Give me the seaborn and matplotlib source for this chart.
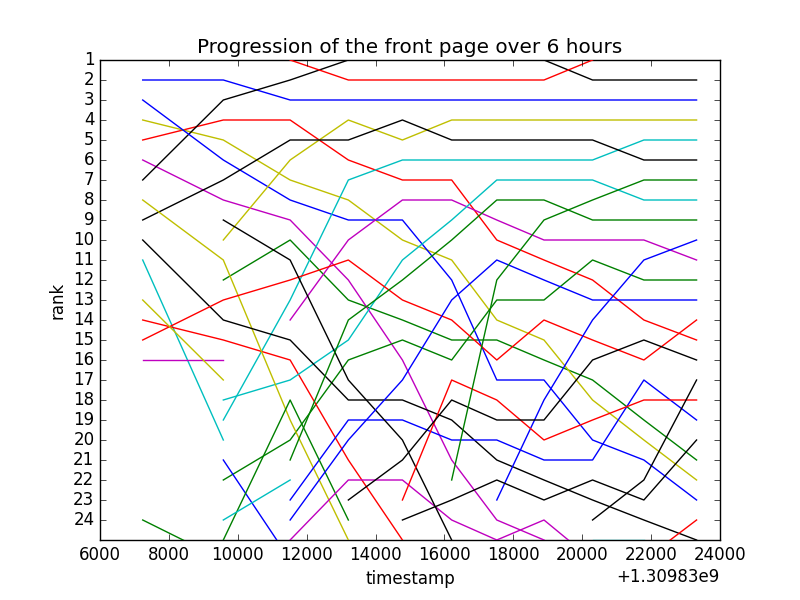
import numpy as np
import pandas as pd
import matplotlib
matplotlib.use("Agg")
import matplotlib.pyplot as plt
import seaborn as sns

n = np.nan
OFFSET = 1309830000
timestamps = [7240, 9580, 11520, 13210, 14780, 16210, 17520, 18890, 20300, 21790, 23320]

# rank of each story at each snapshot (nan = not present)
blue_1 = [2, 2, 3, 3, 3, 3, 3, 3, 3, 3, 3]
blue_2 = [3, 6, 8, 9, 9, 12, 17, 17, 20, 21, 23]
blue_3 = [n, 21, 26, n, n, n, n, n, n, n, n]
blue_4 = [n, n, 23, 19, 19, 20, 20, 21, 21, 17, 19]
blue_5 = [n, n, n, n, n, n, 23, 18, 14, 11, 10]
blue_6 = [n, n, 24, 20, 17, 13, 11, 12, 13, 13, 13]

green_1 = [n, 12, 10, 13, 14, 15, 15, 16, 17, 19, 21]
green_2 = [n, 22, 20, 16, 15, 16, 13, 13, 11, 12, 12]
green_3 = [24, 26, n, n, n, n, n, n, n, n, n]
green_4 = [n, 25, 18, 24, n, n, n, n, n, n, n]
green_5 = [n, n, 21, 14, 12, 10, 8, 8, 9, 9, 9]
green_6 = [n, n, n, n, n, 22, 12, 9, 8, 7, 7]

red_1 = [5, 4, 4, 6, 7, 7, 10, 11, 12, 14, 15]
red_2 = [n, n, 1, 2, 2, 2, 2, 2, 1, n, n]
red_3 = [14, 15, 16, 21, 25, n, n, n, n, n, n]
red_4 = [15, 13, 12, 11, 13, 14, 16, 14, 15, 16, 14]
red_5 = [n, n, n, n, 23, 17, 18, 20, 19, 18, 18]
red_6 = [n, n, n, n, n, n, n, n, n, 26, 24]

cyan_1 = [11, 20, n, n, n, n, n, n, n, n, n]
cyan_2 = [n, 19, 13, 7, 6, 6, 6, 6, 6, 5, 5]
cyan_3 = [n, 18, 17, 15, 11, 9, 7, 7, 7, 8, 8]
cyan_4 = [n, 24, 22, n, n, n, n, n, n, n, n]
cyan_5 = [n, n, n, n, n, n, n, n, 25, 25, n]

magenta_1 = [6, 8, 9, 12, 16, 21, 24, 25, n, n, n]
magenta_2 = [n, n, 14, 10, 8, 8, 9, 10, 10, 10, 11]
magenta_3 = [16, 16, n, n, n, n, n, n, n, n, n]
magenta_4 = [n, n, 25, 22, 22, 24, 25, 24, 26, n, n]

yellow_1 = [4, 5, 7, 8, 10, 11, 14, 15, 18, 20, 22]
yellow_2 = [n, 10, 6, 4, 5, 4, 4, 4, 4, 4, 4]
yellow_3 = [8, 11, 19, 25, n, n, n, n, n, n, n]
yellow_4 = [13, 17, n, n, n, n, n, n, n, n, n]

black_1 = [7, 3, 2, 1, 1, 1, 1, 1, 2, 2, 2]
black_2 = [9, 7, 5, 5, 4, 5, 5, 5, 5, 6, 6]
black_3 = [10, 14, 15, 18, 18, 19, 21, 22, 23, 24, 25]
black_4 = [n, 9, 11, 17, 20, 25, n, n, n, n, n]
black_5 = [n, n, n, 23, 21, 18, 19, 19, 16, 15, 16]
black_6 = [n, n, n, n, 24, 23, 22, 23, 22, 23, 20]
black_7 = [n, n, n, n, n, n, n, n, 24, 22, 17]

series = {
    "blue_1": blue_1, "green_1": green_1, "red_1": red_1, "cyan_1": cyan_1,
    "magenta_1": magenta_1, "yellow_1": yellow_1, "black_1": black_1,
    "blue_2": blue_2, "green_2": green_2, "red_2": red_2, "cyan_2": cyan_2,
    "magenta_2": magenta_2, "yellow_2": yellow_2, "black_2": black_2,
    "blue_3": blue_3, "green_3": green_3, "red_3": red_3, "cyan_3": cyan_3,
    "magenta_3": magenta_3, "yellow_3": yellow_3, "black_3": black_3,
    "blue_4": blue_4, "green_4": green_4, "red_4": red_4, "cyan_4": cyan_4,
    "magenta_4": magenta_4, "yellow_4": yellow_4, "black_4": black_4,
    "blue_5": blue_5, "green_5": green_5, "red_5": red_5, "cyan_5": cyan_5,
    "black_5": black_5,
    "blue_6": blue_6, "green_6": green_6, "red_6": red_6, "black_6": black_6,
    "black_7": black_7,
}

classic = {
    "blue": (0.0, 0.0, 1.0), "green": (0.0, 0.5, 0.0), "red": (1.0, 0.0, 0.0),
    "cyan": (0.0, 0.75, 0.75), "magenta": (0.75, 0.0, 0.75),
    "yellow": (0.75, 0.75, 0.0), "black": (0.0, 0.0, 0.0),
}

rows = []
for name, vals in series.items():
    for t, r in zip(timestamps, vals):
        rows.append({"story": name, "timestamp": OFFSET + t, "rank": r})
df = pd.DataFrame(rows).dropna()

palette = {name: classic[name.split("_")[0]] for name in series}

plt.style.use("classic")
fig = plt.figure(figsize=(8, 6), dpi=100, facecolor="white")
ax = fig.add_subplot(111)

sns.lineplot(data=df, x="timestamp", y="rank", hue="story",
             hue_order=list(series.keys()), palette=palette,
             estimator=None, sort=True, legend=False, linewidth=1.0, ax=ax)

for sp in ax.spines.values():
    sp.set_zorder(1)

ax.set_xlim(OFFSET + 6000, OFFSET + 24000)
ax.set_xticks([OFFSET + v for v in range(6000, 24001, 2000)])
ax.ticklabel_format(axis="x", useOffset=OFFSET, style="plain")
ax.set_ylim(25, 1)
ax.set_yticks(range(1, 25))
ax.set_xlabel("timestamp")
ax.set_ylabel("rank")
ax.set_title("Progression of the front page over 6 hours")

fig.savefig("out.png", dpi=100, facecolor="white")
